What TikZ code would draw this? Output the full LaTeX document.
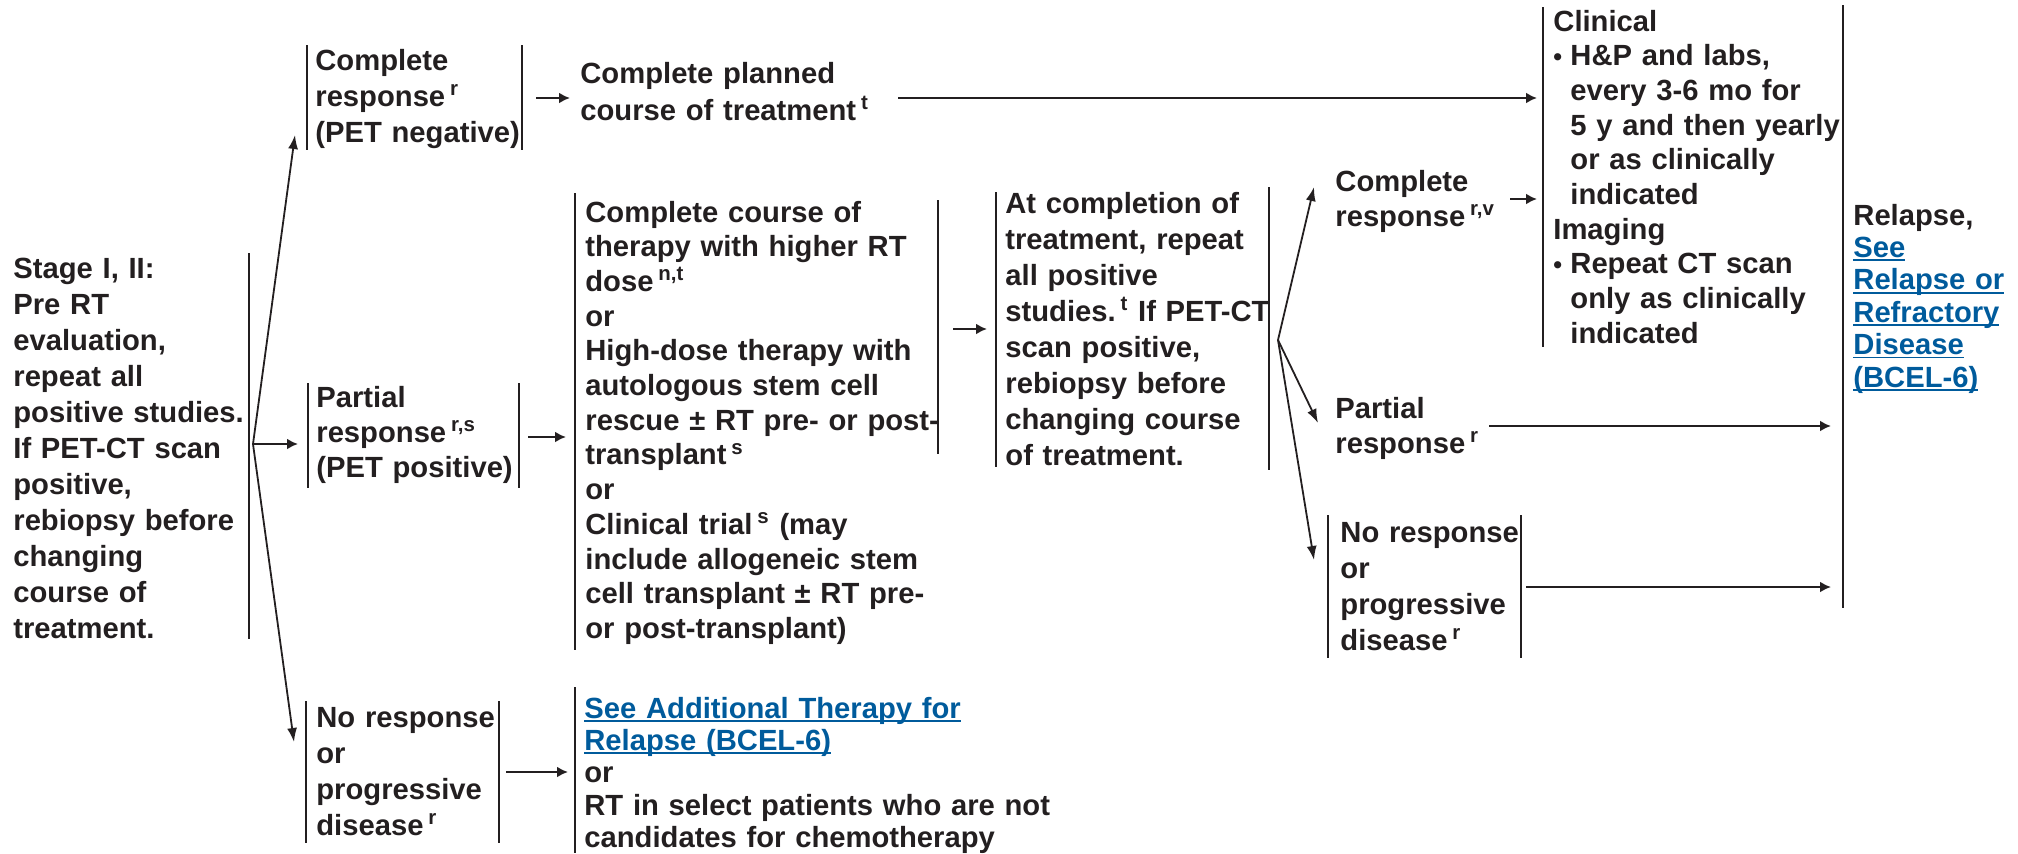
\documentclass[tikz,border=0pt]{standalone}
\usepackage{fontspec}
\setmainfont{Liberation Sans}
\usepackage{xcolor}
\usetikzlibrary{arrows.meta}

\definecolor{ink}{RGB}{35,31,32}
\definecolor{linkblue}{RGB}{0,91,156}
\newcommand{\lnk}[1]{\textcolor{linkblue}{\setbox0=\hbox{#1}\rlap{\rule[-1.9pt]{\wd0}{0.9pt}}\box0}}
\newcommand{\sups}[1]{\,\textsuperscript{#1}}
\newcommand{\bul}{\makebox[8.5pt][l]{\raisebox{0.3pt}{\fontsize{12.5}{12}\selectfont\textbullet}}}
\newcommand{\ind}{\hspace*{8.5pt}}

\begin{document}
\begin{tikzpicture}[x=0.5pt,y=-0.5pt,
    txt/.style={anchor=base west,inner sep=0pt,align=left,text=ink,text width=240pt,
      font=\bfseries\fontsize{14.6}{#1}\selectfont},
    bar/.style={draw=ink,line width=1.1pt},
    flow/.style={draw=ink,line width=1.3pt,-{Latex[length=5.5pt,width=5.5pt]}},
    fork/.style={draw=ink,line width=0.9pt,-{Latex[length=7pt,width=5pt]}}]
    \useasboundingbox (0,0) rectangle (2018,853);

    \node[txt=18pt] (stage) at (13,278) {Stage I, II:\\ Pre RT\\ evaluation,\\ repeat all\\ positive studies.\\ If PET-CT scan\\ positive,\\ rebiopsy before\\ changing\\ course of\\ treatment.};
    \node[txt=18pt] (cr) at (315,70) {Complete\\ response\sups{r}\\ (PET negative)};
    \node[txt=18.5pt] (plan) at (580,83) {Complete planned\\ course of treatment\sups{t}};
    \node[txt=17.5pt] (pr) at (316,407) {Partial\\ response\sups{r,s}\\ (PET positive)};
    \node[txt=18pt] (nrl) at (316,727) {No response\\ or\\ progressive\\ disease\sups{r}};
    \node[txt=17.35pt] (ther) at (585,222) {Complete course of\\ therapy with higher RT\\ dose\sups{n,t}\\ or\\ High-dose therapy with\\ autologous stem cell\\ rescue ± RT pre- or post-\\ transplant\sups{s}\\ or\\ Clinical trial\sups{s} (may\\ include allogeneic stem\\ cell transplant ± RT pre-\\ or post-transplant)};
    \node[txt=16.2pt,text width=300pt] (addl) at (584,718) {\lnk{See Additional Therapy for}\\ \lnk{Relapse (BCEL-6)}\\ or\\ RT in select patients who are not\\ candidates for chemotherapy};
    \node[txt=18pt] (atc) at (1005,213) {At completion of\\ treatment, repeat\\ all positive\\ studies.\sups{t} If PET-CT\\ scan positive,\\ rebiopsy before\\ changing course\\ of treatment.};
    \node[txt=17.5pt] (crv) at (1335,191) {Complete\\ response\sups{r,v}};
    \node[txt=17.5pt] (prr) at (1335,418) {Partial\\ response\sups{r}};
    \node[txt=18pt] (nrr) at (1340,542) {No response\\ or\\ progressive\\ disease\sups{r}};
    \node[txt=17.35pt] (clin) at (1553,31) {Clinical\\ \bul H\&P and labs,\\ \ind every 3-6 mo for\\ \ind 5 y and then yearly\\ \ind or as clinically\\ \ind indicated\\ Imaging\\ \bul Repeat CT scan\\ \ind only as clinically\\ \ind indicated};
    \node[txt=16.2pt,text width=90pt] (rel) at (1853,225) {Relapse,\\ \lnk{See}\\ \lnk{Relapse or}\\ \lnk{Refractory}\\ \lnk{Disease}\\ \lnk{(BCEL-6)}};

    \draw[bar] (249,253) -- (249,639);
    \draw[bar] (307,45) -- (307,150);
    \draw[bar] (522,45) -- (522,150);
    \draw[bar] (308,383) -- (308,488);
    \draw[bar] (519,383) -- (519,488);
    \draw[bar] (306,701) -- (306,843);
    \draw[bar] (499,701) -- (499,843);
    \draw[bar] (575,193) -- (575,650);
    \draw[bar] (938,200) -- (938,454);
    \draw[bar] (575,687) -- (575,853);
    \draw[bar] (996,192) -- (996,467);
    \draw[bar] (1269,187) -- (1269,470);
    \draw[bar] (1328,515) -- (1328,658);
    \draw[bar] (1521,515) -- (1521,658);
    \draw[bar] (1543,7) -- (1543,347);
    \draw[bar] (1843,5) -- (1843,608);

    \coordinate (s0) at (253,444);
    \coordinate (s1) at (295,135);
    \coordinate (s2) at (298,444);
    \coordinate (s3) at (294,742);
    \coordinate (a0) at (1278,340);
    \coordinate (a1) at (1314,187);
    \coordinate (a2) at (1318,423);
    \coordinate (a3) at (1314,560);
    \coordinate (c1) at (536,98);
    \coordinate (c2) at (570,98);
    \coordinate (p1) at (898,98);
    \coordinate (p2) at (1537,98);
    \coordinate (q1) at (528,437);
    \coordinate (q2) at (566,437);
    \coordinate (n1) at (506,772);
    \coordinate (n2) at (568,772);
    \coordinate (t1) at (953,329);
    \coordinate (t2) at (987,329);
    \coordinate (v1) at (1510,199);
    \coordinate (v2) at (1537,199);
    \coordinate (r1) at (1489,426);
    \coordinate (r2) at (1831,426);
    \coordinate (w1) at (1526,587);
    \coordinate (w2) at (1831,587);

    \draw[fork] (s0) -- (s1);
    \draw[flow] (s0) -- (s2);
    \draw[fork] (s0) -- (s3);
    \draw[fork] (a0) -- (a1);
    \draw[fork] (a0) -- (a2);
    \draw[fork] (a0) -- (a3);
    \draw[flow] (c1) -- (c2);
    \draw[flow] (p1) -- (p2);
    \draw[flow] (q1) -- (q2);
    \draw[flow] (n1) -- (n2);
    \draw[flow] (t1) -- (t2);
    \draw[flow] (v1) -- (v2);
    \draw[flow] (r1) -- (r2);
    \draw[flow] (w1) -- (w2);
  \end{tikzpicture}
\end{document}
